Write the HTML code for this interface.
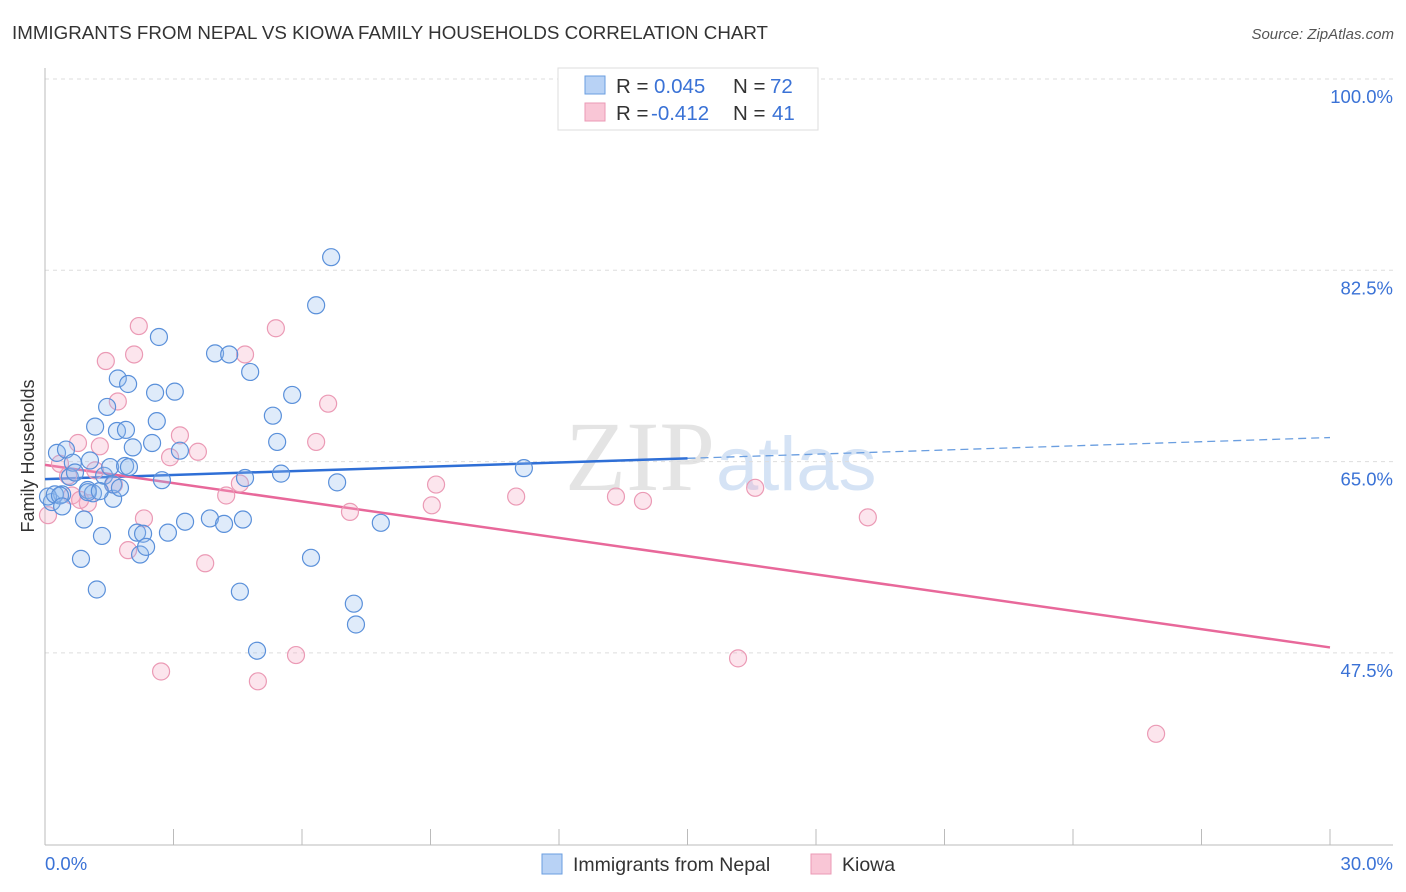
<!DOCTYPE html>
<html><head><meta charset="utf-8">
<style>
body{margin:0;background:#fff;font-family:"Liberation Sans",sans-serif;}
svg{display:block}
</style></head>
<body>
<svg id="chart" width="1406" height="892">
<text x="12" y="39" font-size="18.5" fill="#333" textLength="756" lengthAdjust="spacingAndGlyphs">IMMIGRANTS FROM NEPAL VS KIOWA FAMILY HOUSEHOLDS CORRELATION CHART</text>
<text x="1394" y="39" font-size="15" fill="#555" font-style="italic" text-anchor="end">Source: ZipAtlas.com</text>
<text x="715" y="490" font-size="100" fill="#e4e4e4" font-family="Liberation Serif" text-anchor="end">ZIP</text>
<text x="716" y="490" font-size="76" fill="#d5e3f5">atlas</text>
<g id="grid"></g>
<g id="axes"></g>
<g id="trends"></g>
<g id="points"></g>
<text transform="translate(34,456) rotate(-90)" font-size="18" fill="#333" text-anchor="middle">Family Households</text>
<g>
<rect x="558" y="68" width="260" height="62" fill="#fff" stroke="#ddd"/>
<rect x="585" y="76" width="20" height="18" fill="#b8d2f5" stroke="#6a9ee0"/>
<rect x="585" y="103" width="20" height="18" fill="#f9c6d6" stroke="#eb9ab5"/>
<text x="616" y="93" font-size="20.5" fill="#333">R = <tspan x="654" fill="#3a72d6">0.045</tspan><tspan x="733">N = </tspan><tspan x="770" fill="#3a72d6">72</tspan></text>
<text x="616" y="120" font-size="20.5" fill="#333">R = <tspan x="651" fill="#3a72d6">-0.412</tspan><tspan x="733">N = </tspan><tspan x="772" fill="#3a72d6">41</tspan></text>
</g>
<g>
<rect x="542" y="854" width="20" height="20" fill="#b8d2f5" stroke="#6a9ee0"/>
<text x="573" y="871" font-size="19.5" fill="#333">Immigrants from Nepal</text>
<rect x="811" y="854" width="20" height="20" fill="#f9c6d6" stroke="#eb9ab5"/>
<text x="842" y="871" font-size="19.5" fill="#333">Kiowa</text>
</g>
</svg>
<script>
const blueX=[0.16,0.28,0.40,0.49,0.58,0.65,0.70,0.91,0.84,1.00,1.05,1.12,1.17,1.21,1.33,1.38,1.45,1.52,1.59,1.59,1.68,1.70,1.75,1.87,1.89,1.94,1.96,2.05,2.15,2.22,2.29,2.36,2.50,2.57,2.61,2.66,2.73,2.87,3.03,3.15,3.27,3.85,3.97,4.18,4.30,4.55,4.62,4.67,4.79,4.95,5.32,5.42,5.51,5.77,6.21,6.33,6.68,6.82,7.21,7.26,7.84,11.18,0.07,0.23,0.35,1.00,1.28,0.40];
const blueY=[61.3,65.8,62.0,66.1,63.6,64.9,64.0,59.7,56.1,62.4,65.1,62.1,68.2,53.3,58.2,63.7,70.0,64.5,61.6,62.9,67.8,72.6,62.6,64.6,67.9,72.1,64.5,66.3,58.5,56.5,58.4,57.2,66.7,71.3,68.7,76.4,63.3,58.5,71.4,66.0,59.5,59.8,74.9,59.3,74.8,53.1,59.7,63.5,73.2,47.7,69.2,66.8,63.9,71.1,56.2,79.3,83.7,63.1,52.0,50.1,59.4,64.4,61.8,62.0,61.9,62.2,62.3,60.9];
const pinkX=[0.07,0.35,0.54,0.77,1.00,1.17,1.28,1.42,1.61,1.70,1.94,2.08,2.19,2.31,2.92,3.15,2.71,3.57,3.74,4.23,4.55,4.67,4.97,5.39,5.86,6.33,6.61,7.12,9.03,9.13,11.00,13.33,13.96,16.18,16.58,19.21,25.94,0.63,0.82];
const pinkY=[60.1,64.8,63.7,66.7,61.2,64.2,66.4,74.2,62.9,70.5,56.9,74.8,77.4,59.8,65.4,67.4,45.8,65.9,55.7,61.9,63.0,74.8,44.9,77.2,47.3,66.8,70.3,60.4,61.0,62.9,61.8,61.8,61.4,47.0,62.6,59.9,40.1,61.9,61.5];
const blueTrendX=[0,15,30];
const blueTrendY=[63.4,65.3,67.2];
const pinkTrendX=[0,30];
const pinkTrendY=[64.7,48.0];
const yTicks=[100,82.5,65,47.5];
const yTickLabels=["100.0%","82.5%","65.0%","47.5%"];
const xTicks=[0,3,6,9,12,15,18,21,24,27,30];
const xTickLabels=["0.0%","30.0%"];
const NS="http://www.w3.org/2000/svg";
const sx=v=>45+v/30*1285;
const sy=v=>79+(100-v)/17.5*191.3;
function mk(tag,attrs,parent){const e=document.createElementNS(NS,tag);for(const k in attrs)e.setAttribute(k,attrs[k]);document.getElementById(parent).appendChild(e);return e;}
yTicks.forEach((t,i)=>{
  const l=mk('line',{x1:45,x2:1393,y1:sy(t),y2:sy(t),stroke:'#ddd','stroke-dasharray':'4,4'},'grid');
  
  
  const tx=mk('text',{x:1393,y:sy(t)+24,'font-size':18.5,fill:'#3a72d6','text-anchor':'end'},'axes');
  tx.textContent=yTickLabels[i];
  
  
});
const ax=mk('line',{x1:45,x2:45,y1:68,y2:845,stroke:'#bbb'},'axes');


const bx=mk('line',{x1:45,x2:1393,y1:845,y2:845,stroke:'#bbb'},'axes');


xTicks.forEach(t=>{
  const l=mk('line',{x1:sx(t),x2:sx(t),y1:829,y2:845,stroke:'#bbb'},'axes');
  
  
});
const xl0=mk('text',{x:45,y:870,'font-size':18.5,fill:'#3a72d6'},'axes');
xl0.textContent=xTickLabels[0];


const xl1=mk('text',{x:1393,y:870,'font-size':18.5,fill:'#3a72d6','text-anchor':'end'},'axes');
xl1.textContent=xTickLabels[1];


function pts(X,Y,fill,stroke,name){
  X.forEach((x,i)=>{
    const c=mk('circle',{cx:sx(x),cy:sy(Y[i]),r:8.5,fill:fill,stroke:stroke,'stroke-width':1.2},'points');
    
    
  });
}
pts(pinkX,pinkY,'rgba(245,170,195,0.3)','#eb9ab5','kiowa-point');
pts(blueX,blueY,'rgba(150,190,240,0.3)','#5a90da','nepal-point');
const b1=mk('line',{x1:sx(blueTrendX[0]),y1:sy(blueTrendY[0]),x2:sx(blueTrendX[1]),y2:sy(blueTrendY[1]),stroke:'#2f6fd6','stroke-width':2.5},'trends');


const b2=mk('line',{x1:sx(blueTrendX[1]),y1:sy(blueTrendY[1]),x2:sx(blueTrendX[2]),y2:sy(blueTrendY[2]),stroke:'#6a9ee0','stroke-width':1.3,'stroke-dasharray':'8,5'},'trends');


const p1=mk('line',{x1:sx(pinkTrendX[0]),y1:sy(pinkTrendY[0]),x2:sx(pinkTrendX[1]),y2:sy(pinkTrendY[1]),stroke:'#e8689a','stroke-width':2.5},'trends');


</script>
</body></html>
